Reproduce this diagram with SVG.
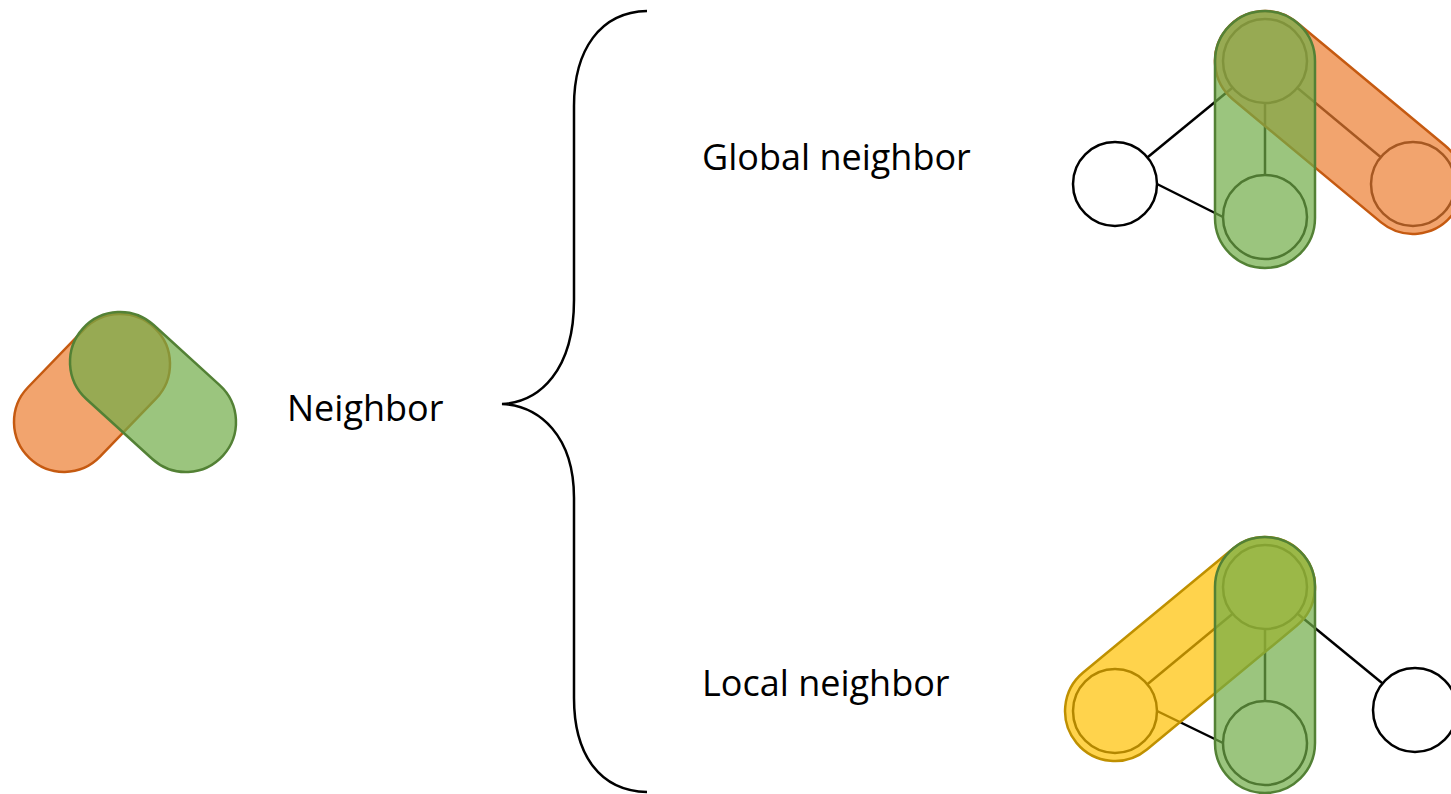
<svg xmlns="http://www.w3.org/2000/svg" width="1451" height="794" viewBox="0 0 1451 794">
  <style>
    .label { font-family: "Open Sans", "Liberation Sans", sans-serif; font-size: 36px; fill: #000; }
    .edge { stroke: #000; stroke-width: 2.5; fill: none; }
    .vertex { fill: #fff; stroke: #000; stroke-width: 2.5; }
    .cap-green { fill: #70AD47; fill-opacity: 0.7; stroke: #538135; stroke-width: 2.5; }
    .cap-orange { fill: #ED7D31; fill-opacity: 0.7; stroke: #C55A11; stroke-width: 2.5; }
    .cap-yellow { fill: #FFC000; fill-opacity: 0.7; stroke: #BF9000; stroke-width: 2.5; }
    .brace { stroke: #000; stroke-width: 2.5; fill: none; }
  </style>
  <rect width="1451" height="794" fill="#fff"/>

  <!-- Icon: two overlapping capsules -->
  <g id="neighbor-icon">
    <rect class="cap-orange" x="-50" y="-50" width="180.6" height="100" rx="50" transform="translate(120,364) rotate(134)"/>
    <rect class="cap-green" x="-50" y="-50" width="189.2" height="100" rx="50" transform="translate(120,362) rotate(42.3)"/>
  </g>

  <g id="label-neighbor">
    <text class="label" x="287" y="421">Neighbor</text>
  </g>

  <!-- Curly brace -->
  <g id="connectors">
    <path class="brace" d="M647,11 C600,12 574,50 574,106 L574,300 C574,370 540,402 502,404 C540,406 574,436 574,498 L574,698 C574,755 600,791 647,792"/>
  </g>

  <g id="label-global">
    <text class="label" x="702" y="170">Global neighbor</text>
  </g>
  <g id="label-local">
    <text class="label" x="702" y="696">Local neighbor</text>
  </g>

  <!-- Global neighbor graph -->
  <g id="global-graph">
    <line class="edge" x1="1115" y1="184" x2="1265" y2="61"/>
    <line class="edge" x1="1157" y1="184" x2="1223" y2="217"/>
    <line class="edge" x1="1265" y1="61" x2="1265" y2="217"/>
    <line class="edge" x1="1265" y1="61" x2="1413" y2="184"/>
    <circle class="vertex" cx="1115" cy="184" r="42"/>
    <circle class="vertex" cx="1265" cy="61" r="42"/>
    <circle class="vertex" cx="1265" cy="217" r="42"/>
    <circle class="vertex" cx="1413" cy="184" r="42"/>
    <rect class="cap-orange" x="-50" y="-50" width="292.4" height="100" rx="50" transform="translate(1265,61) rotate(39.7)"/>
    <rect class="cap-green" x="-50" y="-50" width="257" height="100" rx="50" transform="translate(1265,61) rotate(90)"/>
  </g>

  <!-- Local neighbor graph -->
  <g id="local-graph">
    <line class="edge" x1="1115" y1="711" x2="1265" y2="587"/>
    <line class="edge" x1="1157" y1="711" x2="1223" y2="743"/>
    <line class="edge" x1="1265" y1="587" x2="1265" y2="743"/>
    <line class="edge" x1="1265" y1="587" x2="1415" y2="710"/>
    <circle class="vertex" cx="1115" cy="711" r="42"/>
    <circle class="vertex" cx="1265" cy="587" r="42"/>
    <circle class="vertex" cx="1265" cy="743" r="42"/>
    <circle class="vertex" cx="1415" cy="710" r="42"/>
    <rect class="cap-yellow" x="-50" y="-50" width="294.6" height="100" rx="50" transform="translate(1265,587) rotate(140.4)"/>
    <rect class="cap-green" x="-50" y="-50" width="256" height="100" rx="50" transform="translate(1265,587) rotate(90)"/>
  </g>
</svg>
